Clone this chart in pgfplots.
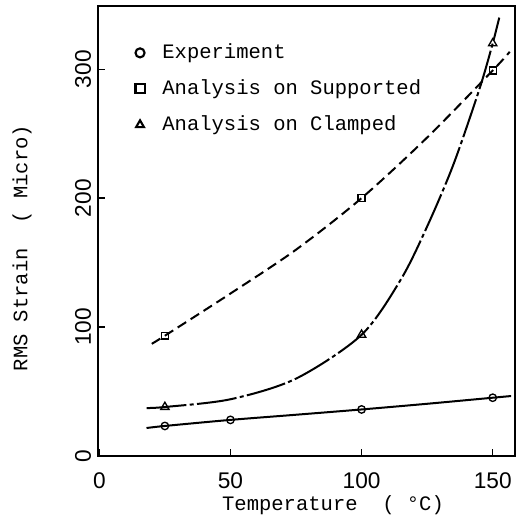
\documentclass[border=0pt]{standalone}
\usepackage{pgfplots}
\pgfplotsset{compat=1.18}
\usepackage{fontspec}
\setmainfont{Liberation Mono}
\newfontfamily\numfont{Liberation Sans}
\begin{document}
\begin{tikzpicture}
\useasboundingbox (-73.5pt,-45.75pt) rectangle (313.5pt,342pt);
\begin{axis}[
  scale only axis, width=312.75pt, height=337.5pt,
  xmin=-0.5, xmax=158.5, ymin=0, ymax=349,
  axis line style={line width=1.3pt},
  xtick={0,50,100,150}, ytick={0,100,200,300},
  tick align=inside, xtick pos=bottom, ytick pos=left,
  major tick length=5pt, tick style={line width=1pt, black},
  /pgf/number format/assume math mode=true,
  ticklabel style={font=\numfont\fontsize{17}{17}\selectfont, inner sep=0pt},
  xticklabel shift=12pt,
  yticklabel style={rotate=90, anchor=south},
  yticklabel shift=5pt,
  xlabel={Temperature~~( °C)},
  xlabel style={at={(axis description cs:0.5636,-0.1089)}, anchor=center, font=\fontsize{15.4}{16}\selectfont},
  ylabel={RMS Strain~~( Micro)},
  ylabel style={at={(axis description cs:-0.1823,0.462)}, anchor=center, rotate=0, font=\fontsize{15.4}{16}\selectfont},
  legend style={at={(axis description cs:0.077,0.929)}, anchor=north west, draw=none, fill=none,
    font=\fontsize{15.4}{16}\selectfont, row sep=9pt,
    nodes={text height=11pt, text depth=3pt, inner sep=2pt}},
  legend cell align=left,
  legend image code/.code={%
    \draw[#1, mark size=3.4pt, mark options={solid, fill=white, line width=1.6pt}] plot coordinates {(0pt,0pt)};
    \path (-3.5pt,0pt) (14pt,0pt);},
  every axis plot/.append style={line width=1.5pt, black},
  mark options={solid, fill=white, line width=1pt},
]
% curves
\addplot[smooth, forget plot] coordinates {(18,21.7)(25,23.3)(50,28)(75,32)(100,36.1)(125,40.5)(150,45.2)(157,46.5)};
\addplot[smooth, forget plot, dash pattern=on 7.5pt off 4pt] coordinates {(20,87)(25,93.3)(50,126)(75,160)(100,200)(125,247)(150,299)(156.5,313.5)};
\addplot[smooth, forget plot, dash pattern=on 30pt off 2.5pt on 3pt off 2.5pt] coordinates {(18,37.2)(25,38)(50,44)(75,60)(100,94)(115,137)(125,178)(135,226)(145,285)(150,320)(152.5,340)};
% markers
\addplot[only marks, mark=o, mark size=2.8pt] coordinates {(25,23.3)(50,28)(100,36.1)(150,45.2)};
\addlegendentry{Experiment}
\addplot[only marks, mark=square, mark size=2.6pt] coordinates {(25,93.3)(100,200)(150,299)};
\addlegendentry{Analysis on Supported}
\addplot[only marks, mark=triangle, mark size=3.6pt] coordinates {(25,38)(100,94)(150,320)};
\addlegendentry{Analysis on Clamped}
\end{axis}
\end{tikzpicture}
\end{document}
